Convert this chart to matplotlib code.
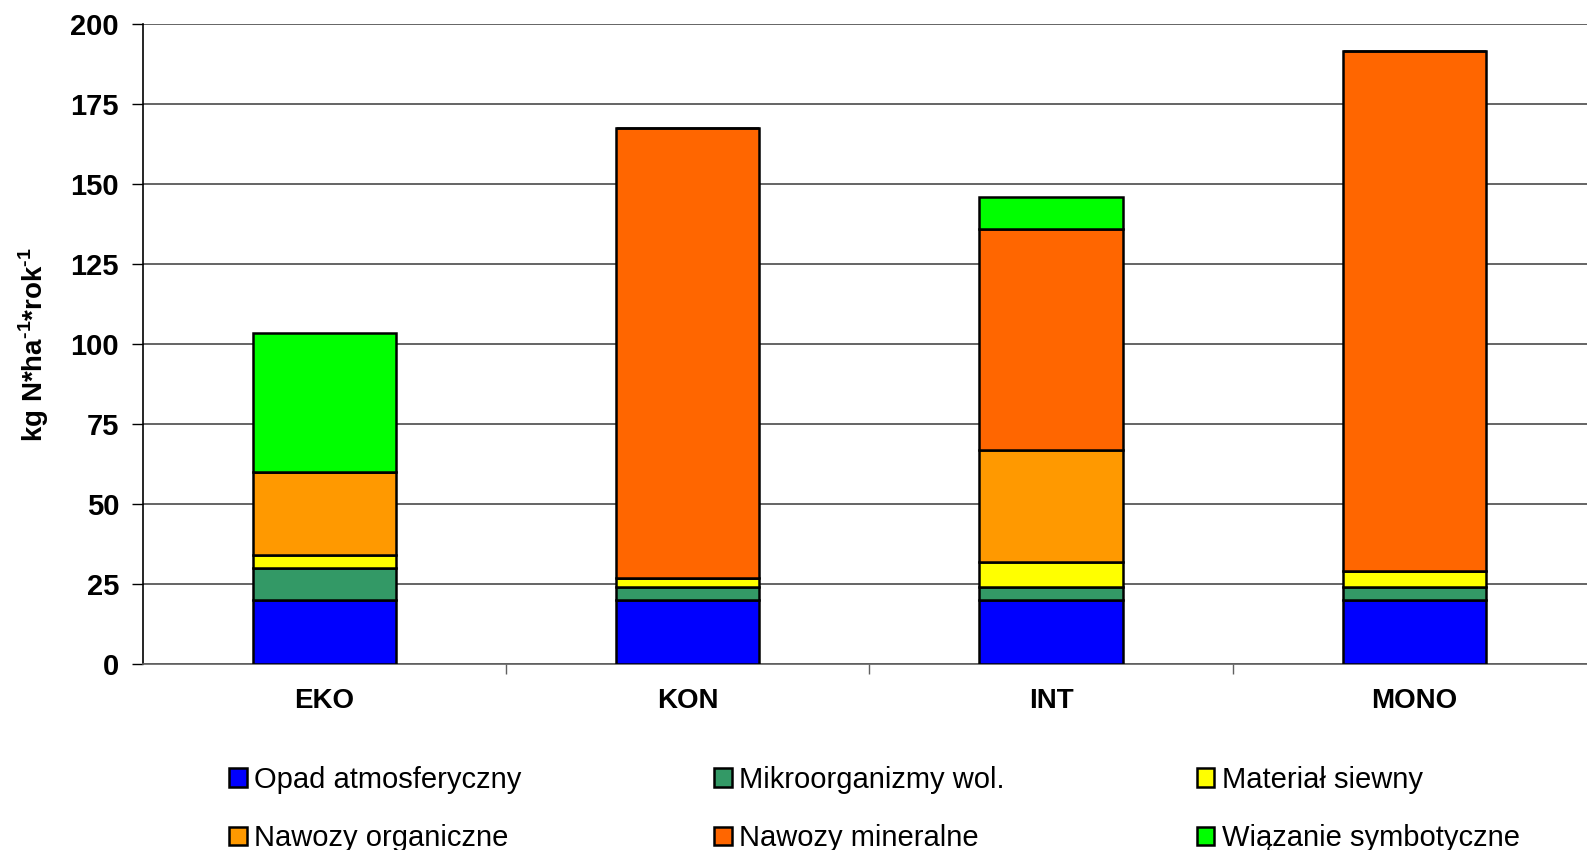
import matplotlib.pyplot as plt
import numpy as np

plt.rcParams["font.family"] = ["Liberation Sans", "DejaVu Sans"]
plt.rcParams["mathtext.fontset"] = "custom"
plt.rcParams["mathtext.rm"] = "Liberation Sans:bold"
plt.rcParams["mathtext.bf"] = "Liberation Sans:bold"

# ------------------------------------------------------
# Data: nitrogen inputs per system (kg N / ha / year)
# ------------------------------------------------------
systems = ["EKO", "KON", "INT", "MONO"]

sources = [
    "Opad atmosferyczny",
    "Mikroorganizmy wol.",
    "Materiał siewny",
    "Nawozy organiczne",
    "Nawozy mineralne",
    "Wiązanie symbotyczne",
]

opad = [20, 20, 20, 20]
mikro = [10, 4, 4, 4]
siewny = [4, 3, 8, 5]
organiczne = [26, 0, 35, 0]
mineralne = [0, 140.5, 69, 162.5]
symbiotyczne = [43.5, 0, 10, 0]

colors = ["#0000FF", "#339966", "#FFFF00", "#FF9900", "#FF6600", "#00FF00"]

series = [opad, mikro, siewny, organiczne, mineralne, symbiotyczne]

# ------------------------------------------------------
# Plot
# ------------------------------------------------------
fig = plt.figure(figsize=(15.87, 8.5), dpi=100)
ax = fig.add_axes([0.0899, 0.2188, 0.9158, 0.7526])

x = np.arange(len(systems))
bottom = np.zeros(len(systems))
handles = []
for vals, col, name in zip(series, colors, sources):
    vals = np.array(vals, dtype=float)
    b = ax.bar(x, vals, width=0.395, bottom=bottom, color=col,
               edgecolor="black", linewidth=1.8, label=name, zorder=3)
    handles.append(b)
    bottom += vals

ax.set_xlim(-0.5, len(systems) - 0.5)
ax.set_ylim(0, 200)
ax.set_yticks(np.arange(0, 201, 25))
ax.yaxis.grid(True, color="#3a3a3a", linewidth=1.1, zorder=0)

ax.set_xticks(x)
ax.set_xticklabels(systems, fontsize=20, fontweight="bold")
ax.set_xticks(np.arange(0.5, len(systems) - 0.5, 1), minor=True)
ax.tick_params(axis="x", which="major", length=0, pad=17)
ax.tick_params(axis="x", which="minor", length=7, width=1, color="#606060")
ax.tick_params(axis="y", length=8, width=1, pad=9, labelsize=21)
for lbl in ax.get_yticklabels():
    lbl.set_fontweight("bold")

for side in ["top", "right"]:
    ax.spines[side].set_visible(False)
ax.spines["left"].set_linewidth(1.2)
ax.spines["bottom"].set_color("#606060")
ax.spines["bottom"].set_linewidth(1.2)

ax.set_ylabel(r"kg N*ha$^{\text{-1}}$*rok$^{\text{-1}}$",
              fontsize=20, fontweight="bold", labelpad=14)

# legend filled row by row
order = [0, 3, 1, 4, 2, 5]
fig.legend([handles[i] for i in order], [sources[i] for i in order],
           ncol=3, loc="upper left", bbox_to_anchor=(0.128, 0.130),
           frameon=False, fontsize=21, handlelength=0.6, handleheight=0.6,
           handletextpad=0.25, columnspacing=6.6, labelspacing=1.05,
           borderpad=0.4)

fig.savefig("out.png", dpi=100)
